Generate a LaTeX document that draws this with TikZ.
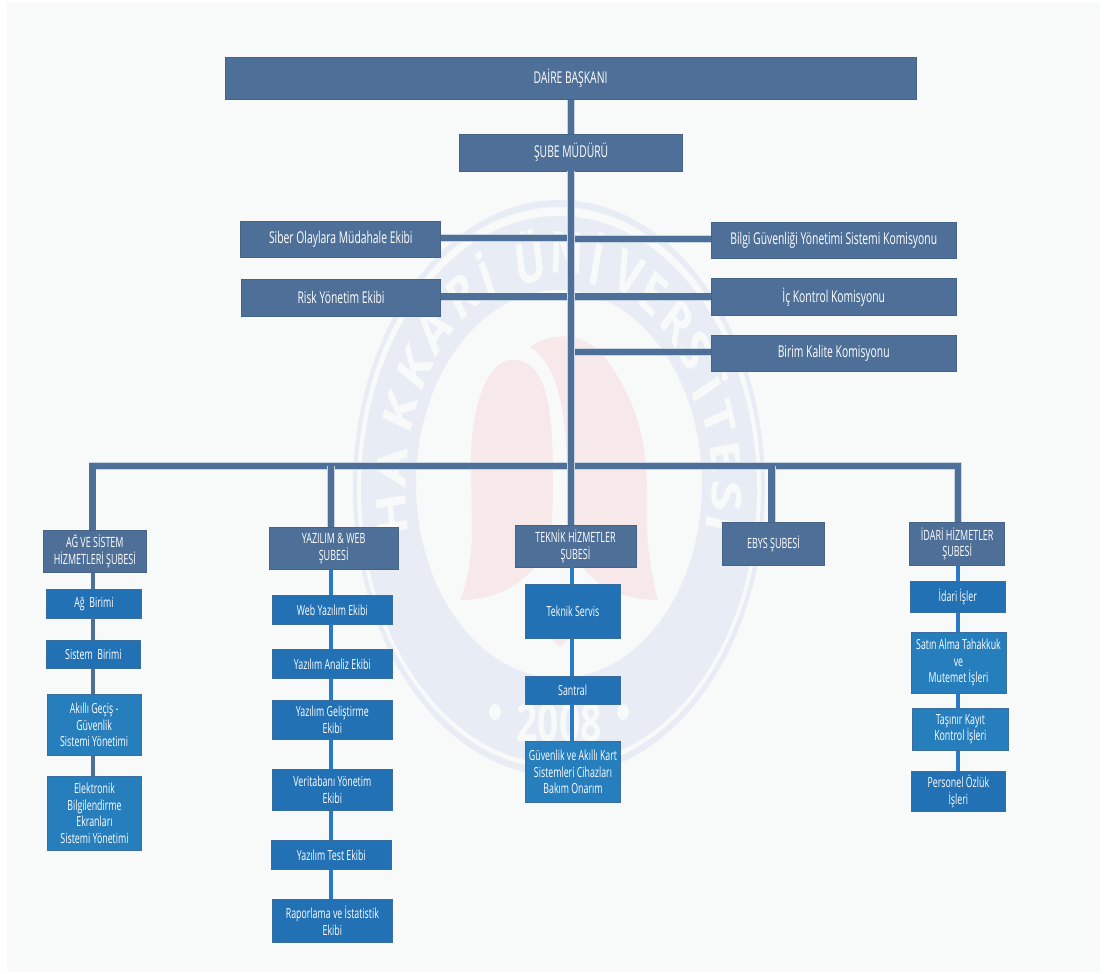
\documentclass[tikz,border=0pt]{standalone}
\usepackage{fontspec}
\setmainfont{Open Sans}
\newfontfamily\lab[FakeStretch=0.636]{Open Sans}
\newfontfamily\wm{Open Sans}
\definecolor{pagebg}{HTML}{F8FAFA}
\definecolor{ringc}{HTML}{E8EDF5}
\definecolor{wingc}{HTML}{F7E9E9}
\definecolor{slatec}{HTML}{4E7098}
\definecolor{slateedge}{HTML}{456487}
\definecolor{bluec}{HTML}{2271B5}
\definecolor{blueedge}{HTML}{3A6E9E}
\definecolor{tealc}{HTML}{277EBC}
\definecolor{linkc}{HTML}{2A78C8}
\definecolor{hazec}{HTML}{C9D4E2}
\tikzset{
 topbox/.style={fill=slatec,draw=slateedge,line width=.5pt,text=white,align=center,inner sep=0pt,font=\lab\fontsize{12.2}{12.8}\selectfont},
 subbox/.style={topbox,font=\lab\fontsize{10.6}{12.6}\selectfont},
 unitbox/.style={fill=bluec,draw=blueedge,line width=.5pt,text=white,align=center,inner sep=0pt,font=\lab\fontsize{10.4}{12.4}\selectfont},
 lightbox/.style={unitbox,fill=tealc},
 trunkline/.style={draw=slatec,line width=4.9pt,preaction={draw=hazec,line width=5.9pt}},
 thinlink/.style={draw=slatec,line width=2.3pt},
 bluelink/.style={draw=linkc,line width=3pt},
 wmletter/.style={text=pagebg,inner sep=0pt,font=\wm\bfseries\fontsize{31}{31}\selectfont,transform shape}
}
\newcommand{\bx}[7]{\node[#6,minimum width={(#4-#2)*0.75pt},minimum height={(#5-#3)*0.75pt}] (#1) at ({(#2+#4)/2},{(#3+#5)/2}) {#7};}
\begin{document}
\begin{tikzpicture}[x=0.75pt,y=-0.75pt]
\useasboundingbox (0,0) rectangle (1107,974);
\fill[pagebg] (7,3) rectangle (1100,972);
% watermark
\fill[ringc,even odd rule] (559,488) ellipse [x radius=206,y radius=288] (559,488) ellipse [x radius=202,y radius=281];
\fill[ringc,even odd rule] (559,490) ellipse [x radius=198,y radius=274] (559,484) ellipse [x radius=143,y radius=194];
\fill[wingc] (530,347) .. controls (545,335) and (585,325) .. (610,365) .. controls (635,400) and (647,440) .. (647,490) -- (647,530) .. controls (648,560) and (655,590) .. (658,600) .. controls (630,600) and (600,590) .. (585,570) .. controls (572,550) and (567,530) .. (567,483) .. controls (567,420) and (560,365) .. (530,347) -- cycle;
\fill[wingc] (517,360) .. controls (490,355) and (472,400) .. (471,457) -- (472,530) .. controls (472,560) and (465,590) .. (460,600) .. controls (490,600) and (515,590) .. (537,565) .. controls (550,550) and (553,530) .. (553,483) .. controls (553,420) and (550,365) .. (517,360) -- cycle;
\fill[wingc] (530,620) -- (560,647) -- (590,620) -- (575,590) -- (545,590) -- cycle;
\begin{scope}[shift={(559,488)},yscale=1.4]
\foreach \a/\c in {186.5/H,174.7/A,161/K,149.4/K,137.8/A,125.3/R,115.8/İ,100/Ü,87.2/N,76.7/İ,65.6/V,55.8/E,45.2/R,35.7/S,25.5/İ,17.2/T,7.6/E,-2/S,-9/İ}
  \node[wmletter,rotate=\a-90] at ({168*cos(\a)},{-168*sin(\a)}) {\c};
\node[text=pagebg,inner sep=0pt,transform shape,font=\wm\bfseries\fontsize{28}{28}\selectfont] at (0,{(723-488)/1.4}) {2008};
\end{scope}
\fill[pagebg] (495,712) ellipse [x radius=6,y radius=8];
\fill[pagebg] (623,712) ellipse [x radius=6,y radius=8];
% nodes
\bx{daire}{225}{57}{916}{99.5}{topbox}{\raisebox{-1.5pt}{DAİRE BAŞKANI}}
\bx{sube}{459.7}{134.3}{682.6}{171}{topbox}{\raisebox{-2pt}{ŞUBE MÜDÜRÜ}}
\bx{siber}{240.8}{221}{440.8}{257.3}{topbox}{Siber Olaylara Müdahale Ekibi}
\bx{bilgi}{711.4}{222}{956}{258.3}{topbox}{Bilgi Güvenliği Yönetimi Sistemi Komisyonu}
\bx{risk}{241.3}{279.7}{440.8}{316}{topbox}{Risk Yönetim Ekibi}
\bx{ic}{711.4}{278.7}{956}{315}{topbox}{İç Kontrol Komisyonu}
\bx{birim}{711.4}{335}{956}{371.3}{topbox}{Birim Kalite Komisyonu}
\bx{agsis}{43.7}{530}{146}{572.7}{subbox}{AĞ VE SİSTEM\\HİZMETLERİ ŞUBESİ}
\bx{yazweb}{269.3}{527.3}{398}{569.7}{subbox}{YAZILIM \& WEB\\ŞUBESİ}
\bx{teknik}{515}{525}{636}{567}{subbox}{TEKNİK HİZMETLER\\ŞUBESİ}
\bx{ebys}{722.7}{522.7}{824.3}{565}{subbox}{EBYS ŞUBESİ}
\bx{idari}{909.7}{522.7}{1004.7}{565}{subbox}{İDARİ HİZMETLER\\ŞUBESİ}
\bx{ag}{46.3}{589.3}{141.7}{618}{unitbox}{Ağ\ \ Birimi}
\bx{sis}{46}{640}{140.7}{668.7}{unitbox}{Sistem\ \ Birimi}
\bx{akilli}{47}{694.7}{141.3}{755.3}{lightbox}{Akıllı Geçiş -\\Güvenlik\\Sistemi Yönetimi}
\bx{elek}{47.3}{776.3}{141.7}{850.7}{lightbox}{Elektronik\\Bilgilendirme\\Ekranları\\Sistemi Yönetimi}
\bx{webe}{272}{595.7}{392.7}{624}{unitbox}{Web Yazılım Ekibi}
\bx{analiz}{272}{649.7}{392.7}{678}{unitbox}{Yazılım Analiz Ekibi}
\bx{gelis}{272}{700.3}{392.7}{739}{unitbox}{Yazılım Geliştirme\\Ekibi}
\bx{veri}{272}{769.7}{392.7}{810.3}{unitbox}{Veritabanı Yönetim\\Ekibi}
\bx{test}{271}{840.7}{391.7}{869.3}{unitbox}{Yazılım Test Ekibi}
\bx{rapor}{272}{899.7}{392.7}{942}{unitbox}{Raporlama ve İstatistik\\Ekibi}
\bx{servis}{525.3}{584.6}{620.7}{638.2}{unitbox}{Teknik Servis}
\bx{santral}{525.3}{676}{620}{704}{unitbox}{Santral}
\bx{guv}{525.3}{741.8}{620.7}{802.3}{lightbox}{Güvenlik ve Akıllı Kart\\Sistemleri Cihazları\\Bakım Onarım}
\bx{iisler}{910.3}{581.3}{1005.3}{612.3}{unitbox}{İdari İşler}
\bx{satin}{911}{632.3}{1006}{693}{lightbox}{Satın Alma Tahakkuk\\ve\\Mutemet İşleri}
\bx{tasinir}{912.7}{708.3}{1008}{750.3}{lightbox}{Taşınır Kayıt\\Kontrol İşleri}
\bx{personel}{911}{771.7}{1005.7}{811.3}{unitbox}{Personel Özlük\\İşleri}
% junctions
\coordinate (jt) at (571,465.8);
\coordinate (jl) at (92.5,465.8);
\coordinate (jr) at (957.8,465.8);
\coordinate (jy) at (331,465.8);
\coordinate (je) at (771.7,465.8);
\coordinate (j1) at (571,238);
\coordinate (j1r) at (571,239.2);
\coordinate (j2) at (571,296.7);
\coordinate (j3) at (571,352);
\coordinate (xa) at (93,0);
\coordinate (xy) at (330.7,0);
\coordinate (xt) at (571.7,0);
\coordinate (xi) at (958,0);
% connectors
\draw[trunkline] (siber.east |- j1) -- (j1);
\draw[trunkline] (bilgi.west |- j1r) -- (j1r);
\draw[trunkline] (risk.east |- j2) -- (ic.west |- j2);
\draw[trunkline] (birim.west |- j3) -- (j3);
\draw[trunkline] (agsis.north -| jl) -- (jl) -- (jr) -- (idari.north -| jr);
\draw[trunkline] (yazweb.north -| jy) -- (jy);
\draw[trunkline] (ebys.north -| je) -- (je);
\draw[trunkline] (daire.south -| jt) -- (sube.north -| jt);
\draw[trunkline] (sube.south -| jt) -- (teknik.north -| jt);
\draw[thinlink] (agsis.south -| xa) -- (ag.north -| xa);
\draw[thinlink] (ag.south -| xa) -- (sis.north -| xa);
\draw[thinlink] (sis.south -| xa) -- (akilli.north -| xa);
\draw[thinlink] (akilli.south -| xa) -- (elek.north -| xa);
\draw[bluelink] (yazweb.south -| xy) -- (webe.north -| xy);
\draw[bluelink] (webe.south -| xy) -- (analiz.north -| xy);
\draw[bluelink] (analiz.south -| xy) -- (gelis.north -| xy);
\draw[bluelink] (gelis.south -| xy) -- (veri.north -| xy);
\draw[bluelink] (veri.south -| xy) -- (test.north -| xy);
\draw[bluelink] (test.south -| xy) -- (rapor.north -| xy);
\draw[bluelink] (teknik.south -| xt) -- (servis.north -| xt);
\draw[bluelink] (servis.south -| xt) -- (santral.north -| xt);
\draw[bluelink] (santral.south -| xt) -- (guv.north -| xt);
\draw[bluelink] (idari.south -| xi) -- (iisler.north -| xi);
\draw[bluelink] (iisler.south -| xi) -- (satin.north -| xi);
\draw[bluelink] (satin.south -| xi) -- (tasinir.north -| xi);
\draw[bluelink] (tasinir.south -| xi) -- (personel.north -| xi);
\end{tikzpicture}
\end{document}
